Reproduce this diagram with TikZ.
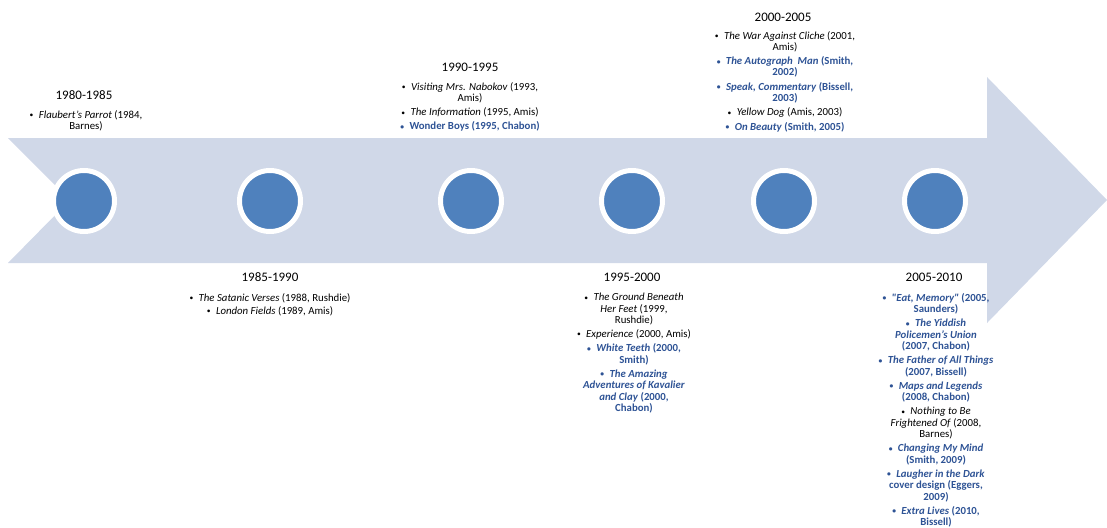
\documentclass[tikz,border=0pt]{standalone}
\usepackage{fontspec}
\usepackage{graphicx}
\setmainfont{Carlito}
\definecolor{bandc}{HTML}{D0D8E8}
\definecolor{dotc}{HTML}{4F81BD}
\definecolor{ink}{HTML}{2E5395}
% bullet and highlighted (blue, bold) text
\newcommand{\itm}{\raisebox{0.12ex}{\scalebox{0.7}{\textbullet}}\hspace{0.5em}}
\newcommand{\B}[1]{{\color{ink}\bfseries #1}}
\begin{document}
\begin{tikzpicture}[x=1pt,y=-1pt,
  dotnode/.style={circle, fill=dotc, draw=white, line width=5pt, minimum size=61pt, inner sep=0},
  yearlbl/.style={font=\fontsize{13}{15}\selectfont, inner sep=0},
  booklist/.style={font=\fontsize{10.8}{11.3}\selectfont, align=center, inner sep=0, anchor=north},
]
\useasboundingbox (0,0) rectangle (1107,527);

% timeline arrow
\fill[bandc] (8,138) -- (987,138) -- (987,77) -- (1107,200) -- (987,323)
  -- (987,263) -- (8,263) -- (70,200) -- cycle;

% period markers
\node[dotnode] (d1) at (84,201) {};
\node[dotnode] (d2) at (270,201) {};
\node[dotnode] (d3) at (471,201) {};
\node[dotnode] (d4) at (632,201) {};
\node[dotnode] (d5) at (784,201) {};
\node[dotnode] (d6) at (935,201) {};

% periods above the arrow
\node[yearlbl] (y1) at (84,95) {1980-1985};
\node[booklist] (l1) at (86,110) {\itm\textit{Flaubert's Parrot} (1984,\\ Barnes)};

\node[yearlbl] (y3) at (470,67) {1990-1995};
\node[booklist] (l3) at (470,82) {%
  \itm\textit{Visiting Mrs. Nabokov} (1993,\\ Amis)\\[3pt]
  \itm\textit{The Information} (1995, Amis)\\[3pt]
  \B{\itm Wonder Boys (1995, Chabon)}};

\node[yearlbl] (y5) at (783,17) {2000-2005};
\node[booklist] (l5) at (785,31) {%
  \itm\textit{The War Against Cliche} (2001,\\ Amis)\\[3pt]
  \B{\itm\textit{The Autograph~ Man} (Smith,}\\ \B{2002)}\\[3pt]
  \B{\itm\textit{Speak, Commentary} (Bissell,}\\ \B{2003)}\\[3pt]
  \itm\textit{Yellow Dog} (Amis, 2003)\\[3pt]
  \B{\itm\textit{On Beauty} (Smith, 2005)}};

% periods below the arrow
\node[yearlbl] (y2) at (270,277) {1985-1990};
\node[booklist] (l2) at (270,293) {%
  \itm\textit{The Satanic Verses} (1988, Rushdie)\\[2pt]
  \itm\textit{London Fields} (1989, Amis)};

\node[yearlbl] (y4) at (632,277) {1995-2000};
\node[booklist] (l4) at (634,293) {%
  \itm\textit{The Ground Beneath}\\ \textit{Her Feet} (1999,\\ Rushdie)\\[3pt]
  \itm\textit{Experience} (2000, Amis)\\[3pt]
  \B{\itm\textit{White Teeth} (2000,}\\ \B{Smith)}\\[3pt]
  \B{\itm\textit{The Amazing}}\\ \B{\textit{Adventures of Kavalier}}\\
  \B{\textit{and Clay} (2000,}\\ \B{Chabon)}};

\node[yearlbl] (y6) at (934,277) {2005-2010};
\node[booklist] (l6) at (936,293) {%
  \B{\itm\textit{\textquotedbl Eat, Memory\textquotedbl} (2005,}\\ \B{Saunders)}\\[3pt]
  \B{\itm\textit{The Yiddish}}\\ \B{\textit{Policemen's Union}}\\ \B{(2007, Chabon)}\\[3pt]
  \B{\itm\textit{The Father of All Things}}\\ \B{(2007, Bissell)}\\[3pt]
  \B{\itm\textit{Maps and Legends}}\\ \B{(2008, Chabon)}\\[3pt]
  \itm\textit{Nothing to Be}\\ \textit{Frightened Of} (2008,\\ Barnes)\\[3pt]
  \B{\itm\textit{Changing My Mind}}\\ \B{(Smith, 2009)}\\[3pt]
  \B{\itm\textit{Laugher in the Dark}}\\ \B{cover design (Eggers,}\\ \B{2009)}\\[3pt]
  \B{\itm\textit{Extra Lives} (2010,}\\ \B{Bissell)}};
\end{tikzpicture}
\end{document}
